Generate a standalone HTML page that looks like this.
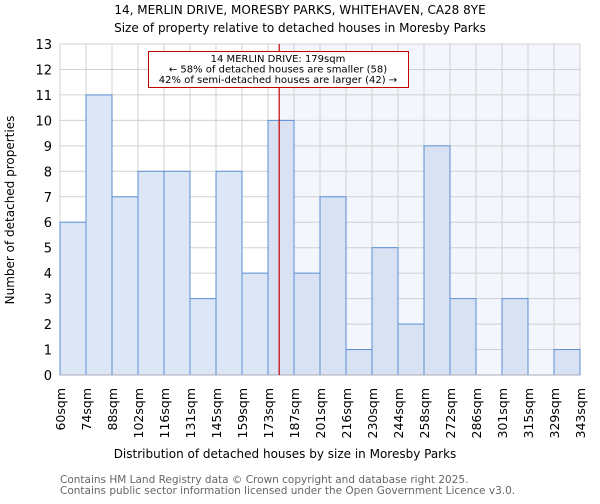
<!DOCTYPE html>
<html><head><meta charset="utf-8"><style>
body{margin:0;background:#fff;font-family:"DejaVu Sans","Liberation Sans",sans-serif}
</style></head><body>
<svg id="c" width="600" height="500" xmlns="http://www.w3.org/2000/svg" font-family="DejaVu Sans, Liberation Sans, sans-serif">
<text x="300" y="14" text-anchor="middle" font-size="12">14, MERLIN DRIVE, MORESBY PARKS, WHITEHAVEN, CA28 8YE</text>
<text x="300" y="32" text-anchor="middle" font-size="12">Size of property relative to detached houses in Moresby Parks</text>
<g id="plot"></g>
<text x="285" y="458" text-anchor="middle" font-size="12">Distribution of detached houses by size in Moresby Parks</text>
<text transform="translate(14,210) rotate(-90)" text-anchor="middle" font-size="12">Number of detached properties</text>
<text x="60" y="483" font-size="10.5" fill="#666">Contains HM Land Registry data © Crown copyright and database right 2025.</text>
<text x="60" y="494" font-size="10.5" fill="#666">Contains public sector information licensed under the Open Government Licence v3.0.</text>
</svg>
<script>
const categories=["60sqm","74sqm","88sqm","102sqm","116sqm","131sqm","145sqm","159sqm","173sqm","187sqm","201sqm","216sqm","230sqm","244sqm","258sqm","272sqm","286sqm","301sqm","315sqm","329sqm","343sqm"];
const counts=[6,11,7,8,8,3,8,4,10,4,7,1,5,2,9,3,0,3,0,1];
const yTicks=[0,1,2,3,4,5,6,7,8,9,10,11,12,13];
const propertyBinPos=[8.43];
const X0=60,X1=580,Y0=375,Y1=44,YMAX=13;
const n=counts.length;
const xs=i=>X0+(X1-X0)*i/n;
const ys=v=>Y0-(Y0-Y1)*v/YMAX;
const NS="http://www.w3.org/2000/svg";
const g=document.getElementById('plot');
function mk(t,a,p){const e=document.createElementNS(NS,t);for(const k in a)e.setAttribute(k,a[k]);(p||g).appendChild(e);return e;}
const mx=xs(propertyBinPos[0]);
const shade=mk('rect',{x:mx,y:Y1,width:X1-mx,height:Y0-Y1,fill:'#f3f6fd'});


yTicks.forEach(t=>{
 const l=mk('line',{x1:X0,x2:X1,y1:ys(t),y2:ys(t),stroke:'#d0d0d0','stroke-width':1});
 
 
 const tx=mk('text',{x:X0-8,y:ys(t)+5,'text-anchor':'end','font-size':'13'});
 tx.textContent=t;
 
 
});
for(let i=0;i<=n;i++){
 const l=mk('line',{x1:xs(i),x2:xs(i),y1:Y1,y2:Y0,stroke:'#d0d0d0','stroke-width':1});
 
 
}
counts.forEach((v,i)=>{
 if(v<=0)return;
 const r=mk('rect',{x:xs(i),y:ys(v),width:xs(1)-xs(0),height:Y0-ys(v),fill:i>=8?'#d8e2f3':'#dce6f4',stroke:'#5b8fd8','stroke-width':1});
 
 
});
categories.forEach((c,i)=>{
 const t=mk('text',{transform:`translate(${xs(i)+5},388) rotate(-90)`,'text-anchor':'end','font-size':'12.5'});
 t.textContent=c;
 
 
});
const ax=mk('line',{x1:X0,x2:X1,y1:Y0,y2:Y0,stroke:'#aab','stroke-width':1});


const ml=mk('line',{x1:mx,x2:mx,y1:Y1,y2:Y0,stroke:'#c00000','stroke-width':1.2});


const box=mk('rect',{x:148.5,y:51.5,width:260,height:36,fill:'#fff',stroke:'#c00000','stroke-width':1});


["14 MERLIN DRIVE: 179sqm","← 58% of detached houses are smaller (58)","42% of semi-detached houses are larger (42) →"].forEach((s,k)=>{
 const t=mk('text',{x:278,y:62+k*10.5,'text-anchor':'middle','font-size':'10'});
 t.textContent=s;
 
 
});
</script>
</body></html>
